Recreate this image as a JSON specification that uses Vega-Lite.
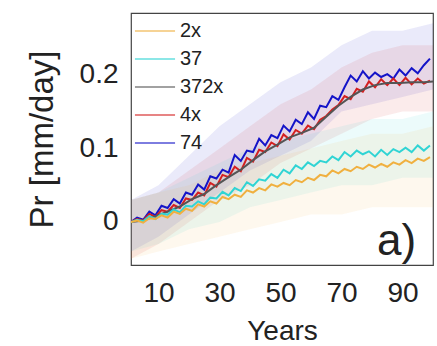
{
  "$schema": "https://vega.github.io/schema/vega-lite/v6.json",
  "width": 302,
  "height": 252,
  "autosize": {"type": "none"},
  "padding": {"left": 131, "top": 13, "right": 4, "bottom": 81},
  "background": "white",
  "config": {
    "view": {"stroke": "#444444", "strokeWidth": 1.2},
    "font": "Liberation Sans",
    "legend": {
      "orient": "top-left", "offset": 5, "padding": 0,
      "symbolType": "M-1.17,0H2.17", "symbolSize": 576, "symbolOpacity": 0.55,
      "labelFontSize": 20, "labelColor": "#222222", "labelOffset": 18,
      "rowPadding": 5, "labelLimit": 200
    }
  },
  "datasets": {
    "lines": [
      {"year":1,"series":"74","pr":0.000},{"year":3,"series":"74","pr":0.006},{"year":5,"series":"74","pr":0.003},{"year":7,"series":"74","pr":0.014},{"year":9,"series":"74","pr":0.009},{"year":11,"series":"74","pr":0.022},{"year":13,"series":"74","pr":0.019},{"year":15,"series":"74","pr":0.031},{"year":17,"series":"74","pr":0.025},{"year":19,"series":"74","pr":0.040},{"year":21,"series":"74","pr":0.037},{"year":23,"series":"74","pr":0.051},{"year":25,"series":"74","pr":0.044},{"year":27,"series":"74","pr":0.062},{"year":29,"series":"74","pr":0.059},{"year":31,"series":"74","pr":0.071},{"year":33,"series":"74","pr":0.067},{"year":35,"series":"74","pr":0.091},{"year":37,"series":"74","pr":0.083},{"year":39,"series":"74","pr":0.097},{"year":41,"series":"74","pr":0.095},{"year":43,"series":"74","pr":0.113},{"year":45,"series":"74","pr":0.104},{"year":47,"series":"74","pr":0.118},{"year":49,"series":"74","pr":0.114},{"year":51,"series":"74","pr":0.131},{"year":53,"series":"74","pr":0.123},{"year":55,"series":"74","pr":0.139},{"year":57,"series":"74","pr":0.133},{"year":59,"series":"74","pr":0.149},{"year":61,"series":"74","pr":0.140},{"year":63,"series":"74","pr":0.158},{"year":65,"series":"74","pr":0.156},{"year":67,"series":"74","pr":0.171},{"year":69,"series":"74","pr":0.166},{"year":71,"series":"74","pr":0.183},{"year":73,"series":"74","pr":0.199},{"year":75,"series":"74","pr":0.191},{"year":77,"series":"74","pr":0.205},{"year":79,"series":"74","pr":0.195},{"year":81,"series":"74","pr":0.203},{"year":83,"series":"74","pr":0.197},{"year":85,"series":"74","pr":0.201},{"year":87,"series":"74","pr":0.195},{"year":89,"series":"74","pr":0.207},{"year":91,"series":"74","pr":0.199},{"year":93,"series":"74","pr":0.209},{"year":95,"series":"74","pr":0.202},{"year":97,"series":"74","pr":0.213},{"year":99,"series":"74","pr":0.222},
      {"year":1,"series":"4x","pr":0.000},{"year":3,"series":"4x","pr":0.004},{"year":5,"series":"4x","pr":0.002},{"year":7,"series":"4x","pr":0.011},{"year":9,"series":"4x","pr":0.007},{"year":11,"series":"4x","pr":0.016},{"year":13,"series":"4x","pr":0.014},{"year":15,"series":"4x","pr":0.023},{"year":17,"series":"4x","pr":0.019},{"year":19,"series":"4x","pr":0.032},{"year":21,"series":"4x","pr":0.030},{"year":23,"series":"4x","pr":0.040},{"year":25,"series":"4x","pr":0.036},{"year":27,"series":"4x","pr":0.053},{"year":29,"series":"4x","pr":0.048},{"year":31,"series":"4x","pr":0.064},{"year":33,"series":"4x","pr":0.061},{"year":35,"series":"4x","pr":0.075},{"year":37,"series":"4x","pr":0.069},{"year":39,"series":"4x","pr":0.087},{"year":41,"series":"4x","pr":0.082},{"year":43,"series":"4x","pr":0.098},{"year":45,"series":"4x","pr":0.095},{"year":47,"series":"4x","pr":0.108},{"year":49,"series":"4x","pr":0.103},{"year":51,"series":"4x","pr":0.119},{"year":53,"series":"4x","pr":0.112},{"year":55,"series":"4x","pr":0.125},{"year":57,"series":"4x","pr":0.120},{"year":59,"series":"4x","pr":0.131},{"year":61,"series":"4x","pr":0.126},{"year":63,"series":"4x","pr":0.139},{"year":65,"series":"4x","pr":0.144},{"year":67,"series":"4x","pr":0.153},{"year":69,"series":"4x","pr":0.159},{"year":71,"series":"4x","pr":0.171},{"year":73,"series":"4x","pr":0.167},{"year":75,"series":"4x","pr":0.181},{"year":77,"series":"4x","pr":0.177},{"year":79,"series":"4x","pr":0.191},{"year":81,"series":"4x","pr":0.183},{"year":83,"series":"4x","pr":0.194},{"year":85,"series":"4x","pr":0.186},{"year":87,"series":"4x","pr":0.195},{"year":89,"series":"4x","pr":0.186},{"year":91,"series":"4x","pr":0.196},{"year":93,"series":"4x","pr":0.187},{"year":95,"series":"4x","pr":0.195},{"year":97,"series":"4x","pr":0.188},{"year":99,"series":"4x","pr":0.192},
      {"year":1,"series":"372x","pr":0.000},{"year":5,"series":"372x","pr":0.002},{"year":9,"series":"372x","pr":0.008},{"year":13,"series":"372x","pr":0.014},{"year":17,"series":"372x","pr":0.021},{"year":21,"series":"372x","pr":0.031},{"year":25,"series":"372x","pr":0.038},{"year":29,"series":"372x","pr":0.050},{"year":33,"series":"372x","pr":0.061},{"year":37,"series":"372x","pr":0.071},{"year":41,"series":"372x","pr":0.084},{"year":45,"series":"372x","pr":0.096},{"year":49,"series":"372x","pr":0.105},{"year":53,"series":"372x","pr":0.115},{"year":57,"series":"372x","pr":0.121},{"year":61,"series":"372x","pr":0.128},{"year":65,"series":"372x","pr":0.143},{"year":69,"series":"372x","pr":0.158},{"year":73,"series":"372x","pr":0.170},{"year":77,"series":"372x","pr":0.180},{"year":81,"series":"372x","pr":0.186},{"year":85,"series":"372x","pr":0.189},{"year":89,"series":"372x","pr":0.189},{"year":93,"series":"372x","pr":0.190},{"year":97,"series":"372x","pr":0.190},{"year":100,"series":"372x","pr":0.191},
      {"year":1,"series":"37","pr":0.000},{"year":3,"series":"37","pr":0.003},{"year":5,"series":"37","pr":0.001},{"year":7,"series":"37","pr":0.008},{"year":9,"series":"37","pr":0.004},{"year":11,"series":"37","pr":0.011},{"year":13,"series":"37","pr":0.010},{"year":15,"series":"37","pr":0.017},{"year":17,"series":"37","pr":0.013},{"year":19,"series":"37","pr":0.022},{"year":21,"series":"37","pr":0.021},{"year":23,"series":"37","pr":0.028},{"year":25,"series":"37","pr":0.024},{"year":27,"series":"37","pr":0.033},{"year":29,"series":"37","pr":0.032},{"year":31,"series":"37","pr":0.041},{"year":33,"series":"37","pr":0.036},{"year":35,"series":"37","pr":0.046},{"year":37,"series":"37","pr":0.042},{"year":39,"series":"37","pr":0.054},{"year":41,"series":"37","pr":0.049},{"year":43,"series":"37","pr":0.058},{"year":45,"series":"37","pr":0.056},{"year":47,"series":"37","pr":0.065},{"year":49,"series":"37","pr":0.060},{"year":51,"series":"37","pr":0.071},{"year":53,"series":"37","pr":0.066},{"year":55,"series":"37","pr":0.077},{"year":57,"series":"37","pr":0.072},{"year":59,"series":"37","pr":0.081},{"year":61,"series":"37","pr":0.076},{"year":63,"series":"37","pr":0.083},{"year":65,"series":"37","pr":0.081},{"year":67,"series":"37","pr":0.089},{"year":69,"series":"37","pr":0.084},{"year":71,"series":"37","pr":0.095},{"year":73,"series":"37","pr":0.089},{"year":75,"series":"37","pr":0.097},{"year":77,"series":"37","pr":0.092},{"year":79,"series":"37","pr":0.096},{"year":81,"series":"37","pr":0.089},{"year":83,"series":"37","pr":0.098},{"year":85,"series":"37","pr":0.091},{"year":87,"series":"37","pr":0.099},{"year":89,"series":"37","pr":0.095},{"year":91,"series":"37","pr":0.101},{"year":93,"series":"37","pr":0.095},{"year":95,"series":"37","pr":0.104},{"year":97,"series":"37","pr":0.097},{"year":99,"series":"37","pr":0.104},
      {"year":1,"series":"2x","pr":0.000},{"year":3,"series":"2x","pr":0.002},{"year":5,"series":"2x","pr":-0.001},{"year":7,"series":"2x","pr":0.005},{"year":9,"series":"2x","pr":0.004},{"year":11,"series":"2x","pr":0.009},{"year":13,"series":"2x","pr":0.006},{"year":15,"series":"2x","pr":0.014},{"year":17,"series":"2x","pr":0.011},{"year":19,"series":"2x","pr":0.018},{"year":21,"series":"2x","pr":0.015},{"year":23,"series":"2x","pr":0.024},{"year":25,"series":"2x","pr":0.021},{"year":27,"series":"2x","pr":0.028},{"year":29,"series":"2x","pr":0.025},{"year":31,"series":"2x","pr":0.034},{"year":33,"series":"2x","pr":0.031},{"year":35,"series":"2x","pr":0.037},{"year":37,"series":"2x","pr":0.034},{"year":39,"series":"2x","pr":0.043},{"year":41,"series":"2x","pr":0.040},{"year":43,"series":"2x","pr":0.046},{"year":45,"series":"2x","pr":0.043},{"year":47,"series":"2x","pr":0.051},{"year":49,"series":"2x","pr":0.048},{"year":51,"series":"2x","pr":0.053},{"year":53,"series":"2x","pr":0.050},{"year":55,"series":"2x","pr":0.057},{"year":57,"series":"2x","pr":0.054},{"year":59,"series":"2x","pr":0.060},{"year":61,"series":"2x","pr":0.057},{"year":63,"series":"2x","pr":0.064},{"year":65,"series":"2x","pr":0.062},{"year":67,"series":"2x","pr":0.070},{"year":69,"series":"2x","pr":0.066},{"year":71,"series":"2x","pr":0.072},{"year":73,"series":"2x","pr":0.069},{"year":75,"series":"2x","pr":0.075},{"year":77,"series":"2x","pr":0.072},{"year":79,"series":"2x","pr":0.078},{"year":81,"series":"2x","pr":0.074},{"year":83,"series":"2x","pr":0.079},{"year":85,"series":"2x","pr":0.075},{"year":87,"series":"2x","pr":0.081},{"year":89,"series":"2x","pr":0.078},{"year":91,"series":"2x","pr":0.084},{"year":93,"series":"2x","pr":0.080},{"year":95,"series":"2x","pr":0.086},{"year":97,"series":"2x","pr":0.083},{"year":99,"series":"2x","pr":0.088}
    ],
    "bands": [
      {"year":1,"band":"74","lo":-0.04,"hi":0.03},{"year":10,"band":"74","lo":-0.02,"hi":0.05},{"year":20,"band":"74","lo":0.01,"hi":0.09},{"year":30,"band":"74","lo":0.04,"hi":0.13},{"year":40,"band":"74","lo":0.07,"hi":0.16},{"year":50,"band":"74","lo":0.09,"hi":0.19},{"year":60,"band":"74","lo":0.11,"hi":0.21},{"year":70,"band":"74","lo":0.15,"hi":0.24},{"year":80,"band":"74","lo":0.16,"hi":0.26},{"year":90,"band":"74","lo":0.17,"hi":0.26},{"year":100,"band":"74","lo":0.18,"hi":0.27},
      {"year":1,"band":"4x","lo":-0.05,"hi":0.03},{"year":10,"band":"4x","lo":-0.03,"hi":0.04},{"year":20,"band":"4x","lo":0.0,"hi":0.07},{"year":30,"band":"4x","lo":0.03,"hi":0.10},{"year":40,"band":"4x","lo":0.05,"hi":0.13},{"year":50,"band":"4x","lo":0.08,"hi":0.16},{"year":60,"band":"4x","lo":0.10,"hi":0.18},{"year":70,"band":"4x","lo":0.12,"hi":0.21},{"year":80,"band":"4x","lo":0.14,"hi":0.23},{"year":90,"band":"4x","lo":0.15,"hi":0.24},{"year":100,"band":"4x","lo":0.15,"hi":0.24},
      {"year":1,"band":"37","lo":-0.04,"hi":0.03},{"year":10,"band":"37","lo":-0.03,"hi":0.04},{"year":20,"band":"37","lo":-0.01,"hi":0.06},{"year":30,"band":"37","lo":0.0,"hi":0.08},{"year":40,"band":"37","lo":0.02,"hi":0.10},{"year":50,"band":"37","lo":0.03,"hi":0.11},{"year":60,"band":"37","lo":0.04,"hi":0.12},{"year":70,"band":"37","lo":0.05,"hi":0.13},{"year":80,"band":"37","lo":0.05,"hi":0.14},{"year":90,"band":"37","lo":0.06,"hi":0.14},{"year":100,"band":"37","lo":0.06,"hi":0.15},
      {"year":1,"band":"2x","lo":-0.05,"hi":0.03},{"year":10,"band":"2x","lo":-0.04,"hi":0.04},{"year":20,"band":"2x","lo":-0.03,"hi":0.05},{"year":30,"band":"2x","lo":-0.02,"hi":0.07},{"year":40,"band":"2x","lo":-0.01,"hi":0.08},{"year":50,"band":"2x","lo":0.0,"hi":0.09},{"year":60,"band":"2x","lo":0.01,"hi":0.10},{"year":70,"band":"2x","lo":0.01,"hi":0.11},{"year":80,"band":"2x","lo":0.02,"hi":0.12},{"year":90,"band":"2x","lo":0.02,"hi":0.12},{"year":100,"band":"2x","lo":0.02,"hi":0.13}
    ],
    "label": [{"year":94.5,"pr":-0.045,"text":"a)"}]
  },
  "layer": [
    {
      "data": {"name": "bands"},
      "mark": {"type": "area", "opacity": 0.09, "clip": true},
      "encoding": {
        "x": {"field": "year", "type": "quantitative"},
        "y": {"field": "lo", "type": "quantitative"},
        "y2": {"field": "hi"},
        "fill": {
          "field": "band", "type": "nominal", "legend": null,
          "scale": {"range": ["#f0b040", "#30d4d4", "#d42020", "#1414c8"]}
        }
      }
    },
    {
      "data": {"name": "lines"},
      "mark": {"type": "line", "clip": true},
      "encoding": {
        "x": {
          "field": "year", "type": "quantitative",
          "scale": {"domain": [1, 100], "nice": false, "zero": false},
          "axis": {
            "values": [10, 30, 50, 70, 90], "grid": false, "domain": false,
            "ticks": false, "labelPadding": 14,
            "labelFontSize": 28, "labelColor": "#222222",
            "title": "Years", "titleFontSize": 28, "titleFontWeight": "normal",
            "titleColor": "#222222", "titlePadding": 10
          }
        },
        "y": {
          "field": "pr", "type": "quantitative",
          "scale": {"domain": [-0.0585, 0.284], "nice": false, "zero": false},
          "axis": {
            "values": [0, 0.1, 0.2], "format": ".1~f", "grid": false, "domain": false,
            "ticks": false, "labelPadding": 13,
            "labelFontSize": 28, "labelColor": "#222222",
            "title": "Pr [mm/day]", "titleFontSize": 33, "titleFontWeight": "normal",
            "titleColor": "#222222", "titlePadding": 20
          }
        },
        "strokeWidth": {
          "field": "series", "type": "nominal",
          "scale": {"domain": ["2x", "37", "372x", "4x", "74"], "range": [2, 2, 1, 2, 2]},
          "legend": {
            "title": null, "orient": "top-left", "offset": 5, "padding": 0,
            "symbolType": "M-1.17,0H2.17", "symbolSize": 576, "symbolOpacity": 0.55,
            "labelFontSize": 20, "labelColor": "#222222", "labelOffset": 18,
            "rowPadding": 5
          }
        },
        "color": {
          "field": "series", "type": "nominal",
          "scale": {
            "domain": ["2x", "37", "372x", "4x", "74"],
            "range": ["#f0b040", "#30d4d4", "#555555", "#d42020", "#1414c8"]
          },
          "legend": {
            "title": null, "orient": "top-left", "offset": 5, "padding": 0,
            "symbolType": "M-1.17,0H2.17", "symbolSize": 576, "symbolOpacity": 0.55,
            "labelFontSize": 20, "labelColor": "#222222", "labelOffset": 18,
            "rowPadding": 5
          }
        }
      }
    },
    {
      "data": {"name": "label"},
      "mark": {"type": "text", "fontSize": 44, "align": "right", "baseline": "alphabetic", "color": "#222222"},
      "encoding": {
        "x": {"field": "year", "type": "quantitative"},
        "y": {"field": "pr", "type": "quantitative"},
        "text": {"field": "text"}
      }
    }
  ]
}
